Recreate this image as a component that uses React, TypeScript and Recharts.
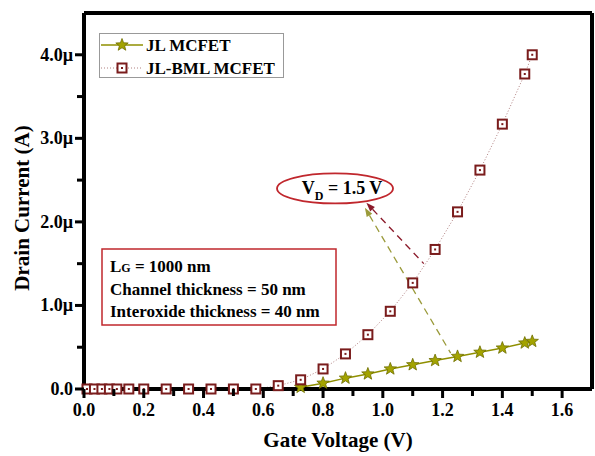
import React from "react";
import {
  LineChart,
  Line,
  XAxis,
  YAxis,
  ReferenceLine,
  ReferenceDot,
  Customized,
} from "recharts";

// gate voltage (V) for each sample
const gateVoltage = [
  0.01, 0.035, 0.06, 0.085, 0.11, 0.15, 0.2, 0.275, 0.35, 0.425, 0.5, 0.575,
  0.65, 0.725, 0.8, 0.875, 0.95, 1.025, 1.1, 1.175, 1.25, 1.325, 1.4, 1.475, 1.5,
];
// drain current in µA
const jlCurrent = [
  0, 0, 0, 0, 0, 0, 0, 0, 0, 0, 0, 0,
  0, 0.02, 0.07, 0.13, 0.18, 0.24, 0.29, 0.34, 0.39, 0.44, 0.49, 0.55, 0.57,
];
const bmlCurrent = [
  0, 0, 0, 0, 0, 0, 0, 0, 0, 0, 0, 0,
  0.04, 0.11, 0.24, 0.42, 0.65, 0.93, 1.27, 1.67, 2.12, 2.62, 3.17, 3.77, 4.0,
];

const xMajorTicks = [0, 0.2, 0.4, 0.6, 0.8, 1.0, 1.2, 1.4, 1.6];
const xMinorTicks = [0.1, 0.3, 0.5, 0.7, 0.9, 1.1, 1.3, 1.5];
const yMajorTicks = [0, 1, 2, 3, 4];
const yMinorTicks = [0.5, 1.5, 2.5, 3.5];

const seriesNames = ["JL MCFET", "JL-BML MCFET"];
const infoLines = ["Channel thickness = 50 nm", "Interoxide thickness = 40 nm"];

const jlData = gateVoltage.map((x, i) => ({ x, y: jlCurrent[i] }));
const bmlData = gateVoltage.map((x, i) => ({ x, y: bmlCurrent[i] }));

const FONT = "'Liberation Serif', 'Times New Roman', serif";
const OLIVE = "#8f8f00";
const MAROON = "#7a1c1c";
const FRAME = { stroke: "#000", strokeWidth: 4 };

const starPoints = (cx: number, cy: number, r: number) => {
  const pts: string[] = [];
  for (let i = 0; i < 10; i++) {
    const rad = i % 2 === 0 ? r : r * 0.42;
    const a = -Math.PI / 2 + (i * Math.PI) / 5;
    pts.push(`${cx + rad * Math.cos(a)},${cy + rad * Math.sin(a)}`);
  }
  return pts.join(" ");
};

const Star = ({ cx, cy }: { cx: number; cy: number }) => (
  <polygon points={starPoints(cx, cy, 6.5)} fill="#a3a300" stroke="#6f6f00" strokeWidth={0.8} />
);

const Square = ({ cx, cy }: { cx: number; cy: number }) => (
  <g>
    <rect x={cx - 4.5} y={cy - 4.5} width={9} height={9} fill="#fff" stroke={MAROON} strokeWidth={2} />
    <rect x={cx - 1} y={cy - 1} width={2} height={2} fill={MAROON} />
  </g>
);

// stars are hidden while the current is still zero
const StarDot = (props: any) => {
  const { cx, cy, payload, index } = props;
  if (!payload || payload.y <= 0.005) return <g key={index} />;
  return <Star key={index} cx={cx} cy={cy} />;
};

const SquareDot = (props: any) => <Square key={props.index} cx={props.cx} cy={props.cy} />;

const XTick = (props: any) => {
  const { x, y, payload } = props;
  const major = xMajorTicks.some((t) => Math.abs(t - payload.value) < 1e-6);
  return (
    <g>
      <rect x={x - 1.5} y={y} width={3} height={major ? 9 : 7} fill="#000" />
      {major && (
        <text x={x} y={y + 27} textAnchor="middle" fontFamily={FONT} fontWeight="bold" fontSize={18} fill="#000">
          {payload.value.toFixed(1)}
        </text>
      )}
    </g>
  );
};

const YTick = (props: any) => {
  const { x, y, payload } = props;
  const major = yMajorTicks.includes(payload.value);
  const label = payload.value === 0 ? "0.0" : `${payload.value.toFixed(1)}µ`;
  return (
    <g>
      <rect x={x - (major ? 9 : 7)} y={y - 1.5} width={major ? 9 : 7} height={3} fill="#000" />
      {major && (
        <text x={x - 11} y={y + 6} textAnchor="end" fontFamily={FONT} fontWeight="bold" fontSize={18} fill="#000">
          {label}
        </text>
      )}
    </g>
  );
};

const LegendBox = () => (
  <g fontFamily={FONT} fontWeight="bold" fontSize={17} fill="#000">
    <rect x={99.5} y={33.5} width={184} height={44} fill="#fff" stroke="#999" strokeWidth={1} />
    <line x1={101} y1={45} x2={143} y2={45} stroke={OLIVE} strokeWidth={1.5} />
    <Star cx={122} cy={45} />
    <text x={146} y={51}>{seriesNames[0]}</text>
    <line x1={101} y1={68} x2={143} y2={68} stroke="#b08080" strokeWidth={1} strokeDasharray="1 2" />
    <Square cx={122} cy={68} />
    <text x={146} y={74}>{seriesNames[1]}</text>
  </g>
);

const InfoBox = () => (
  <g fontFamily={FONT} fontWeight="bold" fontSize={17} fill="#000">
    <rect x={102} y={249} width={234} height={76} fill="#fff" stroke="#c0272d" strokeWidth={1.5} />
    <text x={110} y={272}>
      L<tspan fontSize={12}>G</tspan> = 1000 nm
    </text>
    {infoLines.map((t, i) => (
      <text key={t} x={110} y={295 + i * 22}>
        {t}
      </text>
    ))}
  </g>
);

const VdBadge = (props: any) => {
  const { cx, cy } = props;
  return (
    <g>
      <ellipse cx={cx} cy={cy} rx={58} ry={15} fill="none" stroke="#c0272d" strokeWidth={1.8} />
      <text x={cx + 7} y={cy + 6} textAnchor="middle" fontFamily={FONT} fontWeight="bold" fontSize={18} fill="#000">
        V<tspan fontSize={12} dy={6}>D</tspan>
        <tspan dy={-6}> = 1.5 V</tspan>
      </text>
    </g>
  );
};

const arrowShape = (color: string) => (p: any) => {
  const { x1, y1, x2, y2 } = p;
  const ang = Math.atan2(y1 - y2, x1 - x2);
  const len = 9;
  const w = 3.2;
  const bx = x1 - len * Math.cos(ang);
  const by = y1 - len * Math.sin(ang);
  const nx = -Math.sin(ang) * w;
  const ny = Math.cos(ang) * w;
  return (
    <g>
      <line x1={bx} y1={by} x2={x2} y2={y2} stroke={color} strokeWidth={1.3} strokeDasharray="7 5" />
      <polygon points={`${x1},${y1} ${bx + nx},${by + ny} ${bx - nx},${by - ny}`} fill={color} />
    </g>
  );
};

const AxisTitles = () => (
  <g fontFamily={FONT} fontWeight="bold" fontSize={21} fill="#000">
    <text x={338} y={447} textAnchor="middle">
      Gate Voltage (V)
    </text>
    <text x={0} y={0} transform="translate(29,208) rotate(-90)" textAnchor="middle">
      Drain Current (A)
    </text>
  </g>
);

export default function App() {
  return (
    <div style={{ position: "absolute", left: 0, top: 0, width: 595, height: 456, background: "#fff" }}>
      <LineChart width={595} height={456} margin={{ top: 13, right: 3, bottom: 0, left: 0 }}>
        <XAxis
          type="number"
          dataKey="x"
          domain={[0, 1.7]}
          ticks={[...xMajorTicks, ...xMinorTicks].sort((a, b) => a - b)}
          height={67}
          tickSize={0}
          tickMargin={0}
          tickLine={false}
          tick={<XTick />}
          axisLine={FRAME}
          interval={0}
        />
        <YAxis
          type="number"
          domain={[0, 4.5]}
          ticks={[...yMajorTicks, ...yMinorTicks].sort((a, b) => a - b)}
          width={84}
          tickSize={0}
          tickMargin={0}
          tickLine={false}
          tick={<YTick />}
          axisLine={FRAME}
          interval={0}
        />
        {/* top and right edges of the box */}
        <ReferenceLine y={4.5} {...FRAME} ifOverflow="visible" />
        <ReferenceLine x={1.7} {...FRAME} ifOverflow="visible" />
        <Customized component={InfoBox} />
        <Customized component={AxisTitles} />
        <Customized component={LegendBox} />
        <ReferenceLine
          segment={[{ x: 0.945, y: 2.23 }, { x: 1.137, y: 1.5 }]}
          stroke="#7a1c30"
          shape={arrowShape("#8b1a2a")}
          ifOverflow="visible"
        />
        <ReferenceLine
          segment={[{ x: 0.94, y: 2.17 }, { x: 1.227, y: 0.43 }]}
          stroke={OLIVE}
          shape={arrowShape("#9a9a3a")}
          ifOverflow="visible"
        />
        <ReferenceDot x={0.84} y={2.4} r={0} shape={<VdBadge />} ifOverflow="visible" />
        <Line
          data={jlData}
          dataKey="y"
          name={seriesNames[0]}
          stroke={OLIVE}
          strokeWidth={1.5}
          dot={<StarDot />}
          isAnimationActive={false}
        />
        <Line
          data={bmlData}
          dataKey="y"
          name={seriesNames[1]}
          stroke="#b08080"
          strokeWidth={1}
          strokeDasharray="1 2"
          dot={<SquareDot />}
          isAnimationActive={false}
        />
      </LineChart>
    </div>
  );
}
